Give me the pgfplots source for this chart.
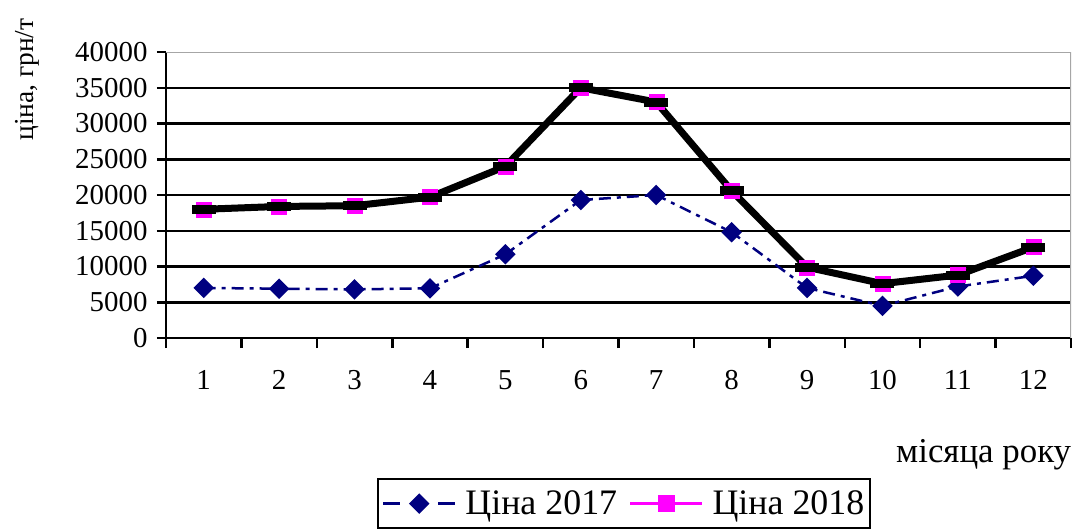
\documentclass[border=0pt]{standalone}
\usepackage{fontspec}
\setmainfont{Liberation Serif}
\usepackage{pgfplots}
\pgfplotsset{compat=1.18}
\definecolor{navyc}{HTML}{000080}
\definecolor{mag}{HTML}{FF00FF}
\begin{document}
\begin{tikzpicture}
\useasboundingbox (-166bp,-191bp) rectangle (906bp,338bp);
\begin{axis}[
 scale only axis, width=905bp, height=286bp,
 xmin=0.5, xmax=12.5, ymin=0, ymax=40000,
 axis x line*=bottom, axis y line*=left,
 axis line style={line width=2.5bp, -},
 xtick={1,...,12},
 major x tick style={draw=none},
 minor xtick={0.5,1.5,...,12.5},
 minor x tick style={line width=2.5bp, black},
 minor tick length=10bp,
 major tick length=9bp,
 ytick={0,5000,...,35000},
 extra y ticks={40000}, extra y tick style={grid=none},
 ymajorgrids, major grid style={black, line width=2.5bp},
 y tick style={line width=2.5bp, black},
 tick align=outside,
 scaled y ticks=false,
 /pgf/number format/assume math mode=true,
 /pgf/number format/1000 sep={},
 tick label style={font=\fontsize{29}{30}\selectfont},
 xticklabel style={yshift=-20bp},
 yticklabel style={xshift=-6bp},
 xlabel={місяца року},
 xlabel style={at={(axis description cs:0.9035,-0.409)}, anchor=center, font=\fontsize{35}{36}\selectfont},
 ylabel={ціна, грн/т},
 ylabel style={at={(axis description cs:-0.1536,0.904)}, anchor=center, font=\fontsize{27.5}{29}\selectfont},
 legend columns=2,
 legend style={at={(axis description cs:0.2331,-0.4895)}, anchor=north west, draw=black, line width=2bp,
   font=\fontsize{36}{38}\selectfont, inner xsep=4bp, inner ysep=10bp,
   /tikz/every odd column/.append style={column sep=7bp},
   /tikz/every even column/.append style={column sep=10bp}},
 legend image code/.code={\draw[mark repeat=2, mark phase=2, #1] plot coordinates {(0bp,0bp) (36bp,0bp) (72bp,0bp)};},
]
\addplot[navyc, line width=2.5bp, dash pattern=on 12bp off 6bp on 4bp off 6bp, mark=square*, mark size=6bp, mark options={rotate=45, solid, fill=navyc}, forget plot]
 coordinates {(1,7000)(2,6900)(3,6800)(4,6950)(5,11700)(6,19300)(7,20000)(8,14800)(9,7000)(10,4500)(11,7200)(12,8700)};
\addplot[only marks, mark=square*, mark size=7.5bp, mag, forget plot]
 coordinates {(1,18000)(2,18400)(3,18500)(4,19700)(5,24000)(6,35000)(7,33000)(8,20600)(9,9900)(10,7600)(11,8800)(12,12700)};
\addplot[black, line width=7bp, mark=-, mark size=12bp, mark options={line width=9bp}, forget plot]
 coordinates {(1,18000)(2,18400)(3,18500)(4,19700)(5,24000)(6,35000)(7,33000)(8,20600)(9,9900)(10,7600)(11,8800)(12,12700)};
\draw[gray!70, line width=1.5bp] (rel axis cs:0,1) -- (rel axis cs:1,1) -- (rel axis cs:1,0);
\addlegendimage{navyc, line width=2.5bp, dash pattern=on 17bp off 38bp on 17bp, mark=square*, mark size=6bp, mark options={rotate=45, solid, fill=navyc}}
\addlegendentry{Ціна 2017}
\addlegendimage{mag, line width=2.5bp, mark=square*, mark size=7bp}
\addlegendentry{Ціна 2018}
\end{axis}
\end{tikzpicture}
\end{document}
